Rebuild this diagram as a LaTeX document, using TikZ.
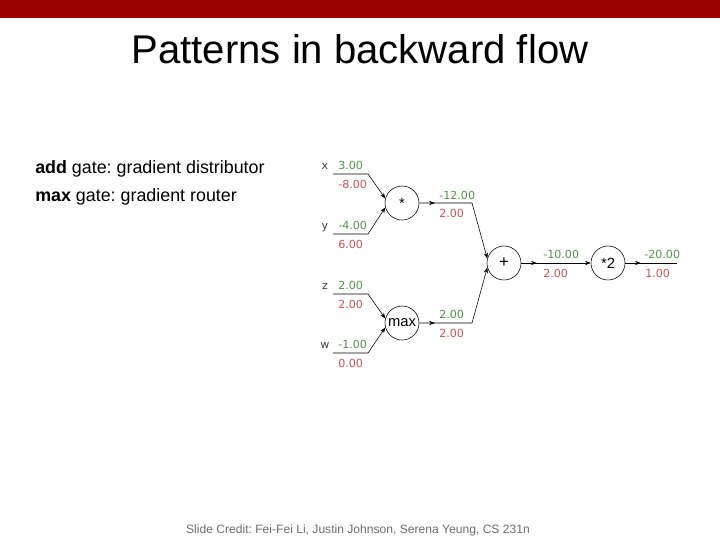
\documentclass[tikz,border=0pt]{standalone}
\usepackage{fontspec}
\setmainfont{Liberation Sans}
\newfontfamily\valfont{DejaVu Sans}
\usetikzlibrary{arrows.meta,positioning,decorations.markings}
\definecolor{slidered}{RGB}{153,0,0}
\definecolor{fwdgreen}{RGB}{80,150,70}
\definecolor{bwdred}{RGB}{200,85,85}
\definecolor{creditgray}{RGB}{110,110,110}
\frenchspacing

\begin{document}
\begin{tikzpicture}[x=0.025cm,y=-0.025cm,
    gate/.style={draw,circle,minimum size=0.85cm,inner sep=0pt,font=\fontsize{10.5}{12}\selectfont},
    val/.style={anchor=base west,inner sep=0pt,font=\valfont\fontsize{7.9}{9}\selectfont},
    fwd/.style={val,text=fwdgreen},
    bwd/.style={val,text=bwdred},
    wire/.style={-{Stealth[length=4pt,width=3pt]}},
    midarrow/.style={postaction={decorate},decoration={markings,
        mark=at position 11pt with {\arrow{Stealth[length=4pt,width=3pt]}}}}]
    % slide frame
    \fill[white] (0,0) rectangle (720,540);
    \fill[slidered] (0,0) rectangle (720,18);
    \node[anchor=base] (title) at (360,63) {\fontsize{28.5}{34}\selectfont Patterns in backward flow};
    \node[anchor=base west,inner sep=0pt,font=\fontsize{12.7}{15}\selectfont] (addtxt) at (35,173) {\textbf{add} gate: gradient distributor};
    \node[anchor=base west,inner sep=0pt,font=\fontsize{12.7}{15}\selectfont] (maxtxt) at (35,201) {\textbf{max} gate: gradient router};
    \node[anchor=base,inner sep=0pt,text=creditgray,font=\fontsize{8.6}{10}\selectfont] (credit) at (358,533)
        {Slide Credit: Fei-Fei Li, Justin Johnson, Serena Yeung, CS 231n};

    % gates
    \node[gate] (mul) at (402,203) {*};
    \node[gate] (maxg) at (402,323) {max};
    \node[gate,font=\fontsize{12}{14}\selectfont] (add) at (504,263) {+};
    \node[gate] (dbl) at (608,263) {*2};
    \coordinate (b1) at (472,203);
    \coordinate (b2) at (472,323);
    \coordinate (out) at (677,263);

    % inputs
    \foreach \n/\yy/\g/\fv/\bv in {x/174/mul.165/3.00/-8.00, y/234/mul.195/-4.00/6.00,
        z/294/maxg.165/2.00/2.00, w/353/maxg.195/-1.00/0.00} {
        \coordinate (\n a) at (333,\yy);
        \coordinate (\n b) at (368,\yy);
        \node[val,anchor=base,text=black!75] (\n lbl) at (325,\yy-5) {\n};
        \node[fwd] (\n fwd) at (338,\yy-5) {\fv};
        \node[bwd] (\n bwd) at (338,\yy+14) {\bv};
        \draw[wire] (\n a) -- (\n b) -- (\g);
    }

    % gate outputs
    \draw[wire,midarrow] (mul) -- (b1) -- (add.165);
    \draw[wire,midarrow] (maxg) -- (b2) -- (add.195);
    \draw[wire,midarrow] (add) -- (dbl);
    \draw[midarrow] (dbl) -- (out);

    \node[fwd] (mulfwd) at (439,199) {-12.00};
    \node[bwd] (mulbwd) at (439,217) {2.00};
    \node[fwd] (maxfwd) at (439,318) {2.00};
    \node[bwd] (maxbwd) at (439,337) {2.00};
    \node[fwd] (addfwd) at (543,258) {-10.00};
    \node[bwd] (addbwd) at (543,277) {2.00};
    \node[fwd] (dblfwd) at (644,258) {-20.00};
    \node[bwd] (dblbwd) at (645,277) {1.00};
\end{tikzpicture}
\end{document}
